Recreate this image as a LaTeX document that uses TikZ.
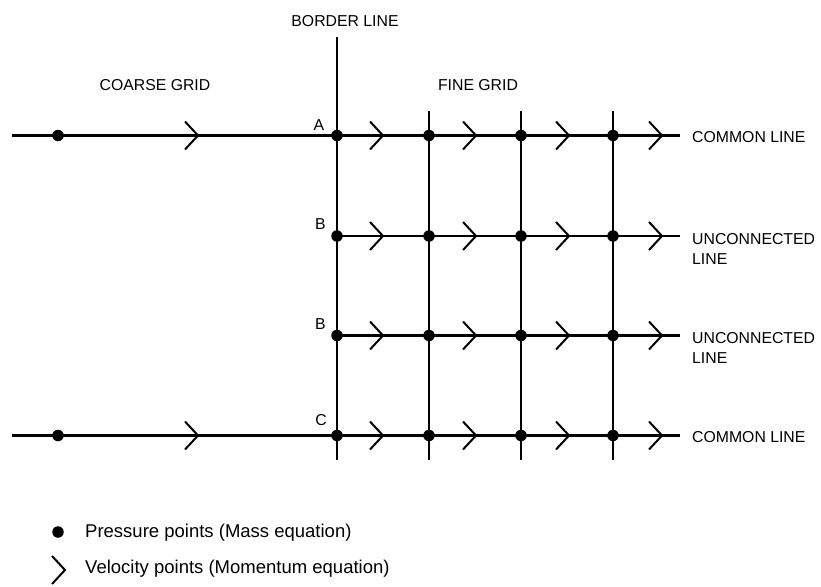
\documentclass[tikz,border=0pt]{standalone}
\usepackage{fontspec}
\setmainfont{Liberation Sans}
\begin{document}
\begin{tikzpicture}[x=1pt,y=-1pt,
  gridline/.style={line width=2.4pt},
  pdot/.style={circle,fill=black,inner sep=0pt,minimum size=11.5pt},
  lbl/.style={font=\fontsize{15.8}{20}\selectfont,inner sep=0pt},
  sidelbl/.style={lbl,anchor=west,align=left},
  leg/.style={font=\fontsize{18.5}{22}\selectfont,inner sep=0pt,anchor=base west},
  chev/.pic={\draw[line width=2pt,line join=miter] (-13,-14) -- (0,0) -- (-13,14);}
]
\useasboundingbox (0,0) rectangle (821,586);

% row y-values and column x-values
\def\rA{135.5}\def\rB{236}\def\rC{335.5}\def\rD{435.5}

% line end coordinates
\coordinate (T0) at (12,\rA);  \coordinate (T1) at (680,\rA);
\coordinate (U0) at (337,\rB); \coordinate (U1) at (680,\rB);
\coordinate (W0) at (337,\rC); \coordinate (W1) at (680,\rC);
\coordinate (D0) at (12,\rD);  \coordinate (D1) at (680,\rD);
\coordinate (V0t) at (337,37);  \coordinate (V0b) at (337,460);
\coordinate (V1t) at (429,111); \coordinate (V1b) at (429,460);
\coordinate (V2t) at (521,111); \coordinate (V2b) at (521,460);
\coordinate (V3t) at (613,111); \coordinate (V3b) at (613,460);

% grid lines
\draw[gridline] (T0) -- (T1);
\draw[gridline] (U0) -- (U1);
\draw[gridline] (W0) -- (W1);
\draw[gridline] (D0) -- (D1);
\draw[gridline] (V0t) -- (V0b);
\draw[gridline] (V1t) -- (V1b);
\draw[gridline] (V2t) -- (V2b);
\draw[gridline] (V3t) -- (V3b);

% pressure points
\node[pdot] (cA) at (58,\rA) {};
\node[pdot] (cD) at (58,\rD) {};
\foreach \r/\y in {a/\rA,b/\rB,c/\rC,d/\rD}{
  \foreach \c/\x in {0/337,1/429,2/521,3/613}{
    \node[pdot] (p\r\c) at (\x,\y) {};
  }
}

% velocity points
\pic at (198,\rA) {chev};
\pic at (198,\rD) {chev};
\foreach \y in {\rA,\rB,\rC,\rD}{
  \foreach \x in {383,476,569,662}{
    \pic at (\x,\y) {chev};
  }
}

% labels
\node[lbl] (border) at (345,21) {BORDER LINE};
\node[lbl] (coarse) at (155,85.5) {COARSE GRID};
\node[lbl] (fine) at (478,85.5) {FINE GRID};
\node[lbl] (la) at (319,125.5) {A};
\node[lbl] (lb1) at (320.5,224.5) {B};
\node[lbl] (lb2) at (320.5,324) {B};
\node[lbl] (lc) at (321,420.5) {C};
\node[sidelbl] (cm1) at (692,137.5) {COMMON LINE};
\node[sidelbl] (cm2) at (692,437.5) {COMMON LINE};
\node[sidelbl] (un1) at (692,248.5) {UNCONNECTED\\LINE};
\node[sidelbl] (un2) at (692,348) {UNCONNECTED\\LINE};

% legend
\node[pdot] (legdot) at (58,532) {};
\pic at (65,570) {chev};
\node[leg] (legp) at (85,537.5) {Pressure points (Mass equation)};
\node[leg] (legv) at (85,573.5) {Velocity points (Momentum equation)};
\end{tikzpicture}
\end{document}
